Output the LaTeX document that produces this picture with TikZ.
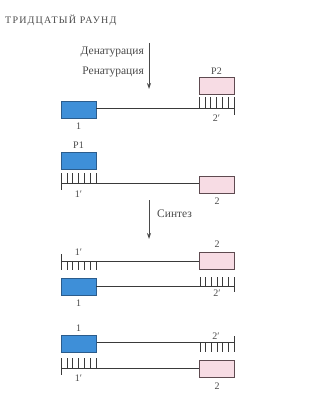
\documentclass[tikz,border=0pt]{standalone}
\usepackage{fontspec}
\setmainfont{Liberation Serif}
\usetikzlibrary{arrows.meta}
\definecolor{bluefill}{HTML}{3E8FD8}
\definecolor{blueline}{HTML}{2B5C8C}
\definecolor{pinkfill}{HTML}{F7DCE4}
\definecolor{pinkline}{HTML}{5E4A50}
\definecolor{strand}{HTML}{3A3A3A}
\definecolor{txt}{HTML}{4A4A4A}
\tikzset{
  bluebox/.style={draw=blueline, fill=bluefill, line width=0.8pt, minimum width=35pt, minimum height=17pt, inner sep=0pt},
  pinkbox/.style={draw=pinkline, fill=pinkfill, line width=0.8pt, minimum width=35pt, minimum height=17pt, inner sep=0pt},
  dna/.style={draw=strand, line width=0.6pt},
  lbl/.style={text=txt, font=\fontsize{10}{11}\selectfont, inner sep=0pt},
  steplbl/.style={text=txt, font=\fontsize{11.5}{13}\selectfont, inner sep=0pt},
  procarrow/.style={draw=txt, line width=0.8pt, -{Stealth[length=6pt,width=4pt]}}
}
\begin{document}
\begin{tikzpicture}[x=1pt,y=-1pt]
\useasboundingbox (0,0) rectangle (310,395);
% title
\node[text=txt, font=\fontsize{10}{11}\selectfont\addfontfeature{LetterSpace=12}, anchor=west, inner sep=0pt] (title) at (5,20) {ТРИДЦАТЫЙ РАУНД};
% first arrow
\coordinate (ar1s) at (149,43);
\coordinate (ar1e) at (149,89);
\draw[procarrow] (ar1s) -- (ar1e);
\node[steplbl, anchor=east] (den) at (144,52) {Денатурация};
\node[steplbl, anchor=east] (ren) at (144,72) {Ренатурация};

% strand A
\node[bluebox] (A1) at (78.5,109.5) {};
\node[pinkbox] (P2) at (216.5,86) {};
\node[lbl] (P2l) at (216.5,71) {P2};
\coordinate (Aend) at (234,108);
\draw[dna] (A1.east |- Aend) -- (Aend);
\foreach \i in {0,...,5} \draw[dna] (199+\i*35/6,97) -- (199+\i*35/6,108);
\draw[dna] (Aend) ++(0,-11) -- ++(0,18);
\node[lbl] (A2p) at (216.5,118) {2′};
\node[lbl] (A1l) at (78.5,126) {1};

% strand B
\node[lbl] (P1l) at (78.5,145) {P1};
\node[bluebox] (P1) at (78.5,160.5) {};
\node[pinkbox] (B2) at (217,184.5) {};
\coordinate (Bstart) at (61,183);
\draw[dna] (Bstart) -- (B2.west |- Bstart);
\draw[dna] (Bstart) ++(0,-10) -- ++(0,17);
\foreach \i in {1,...,6} \draw[dna] (61+\i*35/6,173) -- (61+\i*35/6,183);
\node[lbl] (B1p) at (78.5,194) {1′};
\node[lbl] (B2l) at (217,201) {2};

% second arrow
\coordinate (ar2s) at (149,200);
\coordinate (ar2e) at (149,239);
\draw[procarrow] (ar2s) -- (ar2e);
\node[steplbl, anchor=west] (syn) at (157,214) {Синтез};

% strand C
\node[lbl] (C1p) at (78.5,252) {1′};
\node[pinkbox] (C2) at (217,260.5) {};
\node[lbl] (C2l) at (217,244) {2};
\coordinate (Cstart) at (61,261);
\draw[dna] (Cstart) -- (C2.west |- Cstart);
\draw[dna] (Cstart) ++(0,-7) -- ++(0,16);
\foreach \i in {1,...,6} \draw[dna] (61+\i*35/6,261) -- (61+\i*35/6,270);

% strand D
\node[bluebox] (D1) at (78.5,286.5) {};
\coordinate (Dend) at (234,286);
\draw[dna] (D1.east |- Dend) -- (Dend);
\foreach \i in {0,...,5} \draw[dna] (200+\i*34/6,277) -- (200+\i*34/6,286);
\draw[dna] (Dend) ++(0,-9) -- ++(0,15);
\node[lbl] (D2p) at (217,293) {2′};
\node[lbl] (D1l) at (78.5,303) {1};

% strand E
\node[lbl] (E1l) at (78.5,328) {1};
\node[bluebox] (E1) at (79,343.5) {};
\coordinate (Eend) at (234,342);
\draw[dna] (E1.east |- Eend) -- (Eend);
\foreach \i in {0,...,5} \draw[dna] (200+\i*34/6,342) -- (200+\i*34/6,352);
\draw[dna] (Eend) ++(0,-6) -- ++(0,16);
\node[lbl] (E2p) at (216,336) {2′};

% strand F
\node[pinkbox] (F2) at (217,368.5) {};
\coordinate (Fstart) at (61,368);
\draw[dna] (Fstart) -- (F2.west |- Fstart);
\draw[dna] (Fstart) ++(0,-10) -- ++(0,17);
\foreach \i in {1,...,6} \draw[dna] (61+\i*35/6,358) -- (61+\i*35/6,368);
\node[lbl] (F1p) at (78.5,378) {1′};
\node[lbl] (F2l) at (217,386) {2};
\end{tikzpicture}
\end{document}
